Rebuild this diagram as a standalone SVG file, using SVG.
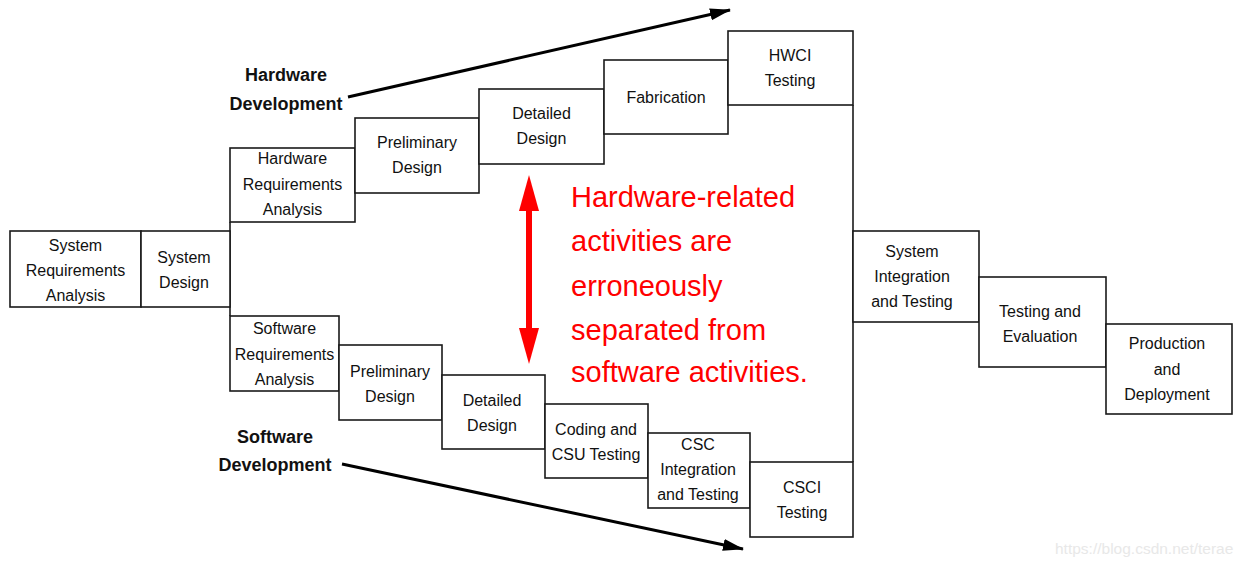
<svg xmlns="http://www.w3.org/2000/svg" width="1245" height="567" viewBox="0 0 1245 567">
<style>
.box{fill:#fff;stroke:#1a1a1a;stroke-width:1.6}
.t{font-family:"Liberation Sans",Arial,sans-serif;font-size:16px;fill:#111;text-anchor:middle}
.lbl{font-family:"Liberation Sans",Arial,sans-serif;font-size:18px;font-weight:bold;fill:#111;text-anchor:middle}
.red{font-family:"Liberation Sans",Arial,sans-serif;font-size:29px;fill:#ff0000}
.conn{stroke:#1a1a1a;stroke-width:1.6;fill:none}
.arr{stroke:#000;stroke-width:3;fill:none}
</style>
<defs>
<marker id="ah" markerUnits="userSpaceOnUse" markerWidth="22" markerHeight="14" refX="20" refY="7" orient="auto">
<path d="M0,1 L21,7 L0,13 Z" fill="#000"/>
</marker>
</defs>
<rect width="1245" height="567" fill="#fff"/>
<g id="connectors">
<line class="conn" x1="230" y1="222" x2="230" y2="316"/>
<line class="conn" x1="853" y1="105" x2="853" y2="462"/>
<line class="arr" x1="348" y1="97" x2="730" y2="10" marker-end="url(#ah)"/>
<line class="arr" x1="342" y1="464" x2="743" y2="549" marker-end="url(#ah)"/>
<g id="red-arrow" fill="#ff0000">
<rect x="526" y="205" width="6" height="128"/>
<polygon points="529,175 539,211 519,211"/>
<polygon points="529,364 539,328 519,328"/>
</g>
</g>
<g id="sys-req"><rect class="box" x="10" y="231" width="131" height="76"/>
<text class="t" x="75.5"><tspan x="75.5" y="251">System</tspan><tspan x="75.5" y="276">Requirements</tspan><tspan x="75.5" y="301">Analysis</tspan></text></g>
<g id="sys-design"><rect class="box" x="141" y="231" width="89" height="76"/>
<text class="t"><tspan x="184" y="263">System</tspan><tspan x="184" y="288">Design</tspan></text></g>
<g id="hw-req"><rect class="box" x="230" y="148" width="125" height="74"/>
<text class="t"><tspan x="292.5" y="164">Hardware</tspan><tspan x="292.5" y="190">Requirements</tspan><tspan x="292.5" y="215">Analysis</tspan></text></g>
<g id="hw-prelim"><rect class="box" x="355" y="118" width="124" height="75"/>
<text class="t"><tspan x="417" y="148">Preliminary</tspan><tspan x="417" y="173">Design</tspan></text></g>
<g id="hw-detailed"><rect class="box" x="479" y="89" width="125" height="75"/>
<text class="t"><tspan x="541.5" y="119">Detailed</tspan><tspan x="541.5" y="144">Design</tspan></text></g>
<g id="fabrication"><rect class="box" x="604" y="60" width="124" height="74"/>
<text class="t" x="666" y="103">Fabrication</text></g>
<g id="hwci"><rect class="box" x="728" y="31" width="125" height="74"/>
<text class="t"><tspan x="790" y="61">HWCI</tspan><tspan x="790" y="86">Testing</tspan></text></g>
<g id="sw-req"><rect class="box" x="230" y="316" width="109" height="75"/>
<text class="t"><tspan x="284.5" y="334">Software</tspan><tspan x="284.5" y="360">Requirements</tspan><tspan x="284.5" y="385">Analysis</tspan></text></g>
<g id="sw-prelim"><rect class="box" x="339" y="345" width="103" height="75"/>
<text class="t"><tspan x="390" y="377">Preliminary</tspan><tspan x="390" y="402">Design</tspan></text></g>
<g id="sw-detailed"><rect class="box" x="442" y="375" width="103" height="74"/>
<text class="t"><tspan x="492" y="406">Detailed</tspan><tspan x="492" y="431">Design</tspan></text></g>
<g id="coding"><rect class="box" x="545" y="404" width="103" height="74"/>
<text class="t"><tspan x="596" y="435">Coding and</tspan><tspan x="596" y="460">CSU Testing</tspan></text></g>
<g id="csc"><rect class="box" x="648" y="433" width="102" height="75"/>
<text class="t"><tspan x="698" y="450">CSC</tspan><tspan x="698" y="475">Integration</tspan><tspan x="698" y="500">and Testing</tspan></text></g>
<g id="csci"><rect class="box" x="750" y="462" width="103" height="75"/>
<text class="t"><tspan x="802" y="493">CSCI</tspan><tspan x="802" y="518">Testing</tspan></text></g>
<g id="sys-int"><rect class="box" x="853" y="231" width="126" height="91"/>
<text class="t"><tspan x="912" y="257">System</tspan><tspan x="912" y="282">Integration</tspan><tspan x="912" y="307">and Testing</tspan></text></g>
<g id="test-eval"><rect class="box" x="979" y="277" width="127" height="90"/>
<text class="t"><tspan x="1040" y="317">Testing and</tspan><tspan x="1040" y="342">Evaluation</tspan></text></g>
<g id="production"><rect class="box" x="1106" y="324" width="126" height="90"/>
<text class="t"><tspan x="1167" y="349">Production</tspan><tspan x="1167" y="375">and</tspan><tspan x="1167" y="400">Deployment</tspan></text></g>
<g id="hw-label"><text class="lbl"><tspan x="286" y="81">Hardware</tspan><tspan x="286" y="110">Development</tspan></text></g>
<g id="sw-label"><text class="lbl"><tspan x="275" y="443">Software</tspan><tspan x="275" y="471">Development</tspan></text></g>
<g id="note"><text class="red"><tspan x="571" y="207">Hardware-related</tspan><tspan x="571" y="251">activities are</tspan><tspan x="571" y="296">erroneously</tspan><tspan x="571" y="340">separated from</tspan><tspan x="571" y="382">software activities.</tspan></text></g>
<text x="1055" y="554" font-family="Liberation Sans, Arial, sans-serif" font-size="15.5" fill="#e8e8e8">https://blog.csdn.net/terae</text>
</svg>
